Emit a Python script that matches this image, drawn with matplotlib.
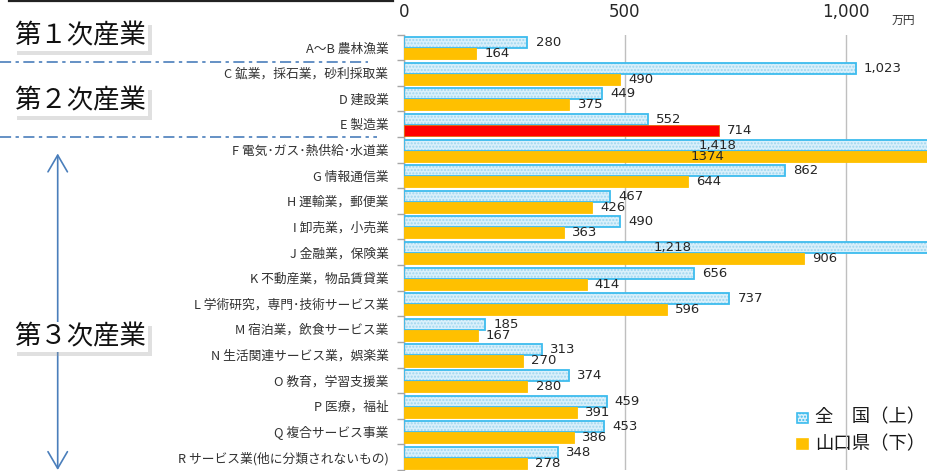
import matplotlib
matplotlib.use("Agg")
import matplotlib.pyplot as plt
from matplotlib.patches import Rectangle, FancyArrowPatch
from matplotlib.lines import Line2D
import matplotlib.patheffects as pe

plt.rcParams['lines.scale_dashes'] = False
CJK = ['Noto Sans CJK JP', 'DejaVu Sans']

# ---- data ----
categories = [
    "A～B 農林漁業",
    "C 鉱業，採石業，砂利採取業",
    "D 建設業",
    "E 製造業",
    "F 電気･ガス･熱供給･水道業",
    "G 情報通信業",
    "H 運輸業，郵便業",
    "I 卸売業，小売業",
    "J 金融業，保険業",
    "K 不動産業，物品賃貸業",
    "L 学術研究，専門･技術サービス業",
    "M 宿泊業，飲食サービス業",
    "N 生活関連サービス業，娯楽業",
    "O 教育，学習支援業",
    "P 医療，福祉",
    "Q 複合サービス事業",
    "R サービス業(他に分類されないもの)",
]
national = [280, 1023, 449, 552, 1418, 862, 467, 490, 1218, 656, 737, 185, 313, 374, 459, 453, 348]
yamaguchi = [164, 490, 375, 714, 1374, 644, 426, 363, 906, 414, 596, 167, 270, 280, 391, 386, 278]
highlight = "E 製造業"
x_ticks = [0, 500, 1000]
x_ticklabels = ["0", "500", "1,000"]
unit_label = "万円"
legend_labels = ["全　国（上）", "山口県（下）"]
sector_labels = ["第１次産業", "第２次産業", "第３次産業"]

W, H = 928, 471
fig = plt.figure(figsize=(W / 100, H / 100), dpi=100)

# overlay axes in pixel coordinates for annotations
ov = fig.add_axes([0, 0, 1, 1])
ov.set_xlim(0, W)
ov.set_ylim(H, 0)
ov.axis('off')
ov.set_zorder(0)

# main chart axes
left_px, top_px, bot_px = 403.7, 34.5, 470.0
xmax = (W - left_px) / (221.0 / 500)
ax = fig.add_axes([left_px / W, (H - bot_px) / H, (W - left_px) / W, (bot_px - top_px) / H])
ax.set_zorder(1)
ax.patch.set_alpha(0)

n = len(categories)
ys = list(range(n))
bh = 0.43
off = 0.03
y_nat = [y - bh / 2 + off for y in ys]
y_yam = [y + bh / 2 + off for y in ys]

blue_fill = '#d9f0fb'
blue_dot = '#9fd6ef'
blue_edge = '#3dbcee'
orange = '#FFC000'
red = '#FF0000'

ax.barh(y_nat, national, height=bh, color=blue_fill, edgecolor=blue_dot,
        linewidth=0, hatch='.....', zorder=2)
ax.barh(y_nat, national, height=bh, fill=False, edgecolor=blue_edge,
        linewidth=1.3, zorder=3)
ycolors = [red if c == highlight else orange for c in categories]
yedges = ['#E46C0A' if c == highlight else orange for c in categories]
ax.barh(y_yam, yamaguchi, height=bh, color=ycolors, edgecolor=yedges,
        linewidth=0.6, zorder=3)

ax.set_xlim(0, xmax)
ax.set_ylim(n - 0.5, -0.5)

# value labels
vfs = 9.5
for y, v in zip(y_nat, national):
    s = f"{v:,}"
    if v > xmax:
        ax.text(v / 2, y, s, ha='center', va='center', fontsize=vfs,
                color='#262626', zorder=5)
    else:
        ax.annotate(s, (v, y), xytext=(5.8, 0), textcoords='offset points',
                    ha='left', va='center', fontsize=vfs, color='#262626', zorder=5)
for y, v in zip(y_yam, yamaguchi):
    s = f"{v}"
    if v > xmax:
        ax.text(v / 2, y, s, ha='center', va='center', fontsize=vfs,
                color='#262626', zorder=5)
    else:
        ax.annotate(s, (v, y), xytext=(5.8, 0), textcoords='offset points',
                    ha='left', va='center', fontsize=vfs, color='#262626', zorder=5)

# axes styling
ax.xaxis.set_ticks_position('top')
ax.set_xticks(x_ticks)
ax.set_xticklabels(x_ticklabels)
ax.tick_params(axis='x', length=0, pad=9.5, labelsize=12, labelcolor='#262626')
ax.grid(axis='x', color='#bfbfbf', linewidth=1.0, zorder=0)
ax.set_axisbelow(True)

ax.set_yticks(ys)
ax.set_yticklabels(categories, fontfamily=CJK, fontsize=9.2, color='#333333')
ax.tick_params(axis='y', which='major', length=0, pad=11)
ax.set_yticks([y + 0.5 for y in range(-1, n)], minor=True)
ax.tick_params(axis='y', which='minor', length=5, width=1, color='#a6a6a6')
for side in ['top', 'right', 'bottom']:
    ax.spines[side].set_visible(False)
ax.spines['left'].set_color('#a6a6a6')
ax.spines['left'].set_linewidth(1.0)

# unit label
ov.text(903, 20.5, unit_label, fontfamily=CJK, fontsize=8.5, color='#333333',
        ha='center', va='center')

# legend (manual, no frame)
leg_y = [417.7, 444.0]
leg_face = [blue_fill, orange]
leg_edge = [blue_edge, orange]
for yy, lab, fc, ec in zip(leg_y, legend_labels, leg_face, leg_edge):
    ov.add_patch(Rectangle((797, yy - 5), 11, 10, facecolor=fc, edgecolor=ec,
                           linewidth=1.2, hatch='.....' if fc == blue_fill else None))
    ov.text(815, yy, lab, fontfamily=CJK, fontsize=13.2, color='#1a1a1a',
            ha='left', va='center')

# top rule
ov.add_line(Line2D([9, 393], [0.8, 0.8], color='#222222', linewidth=1.6))

# dash-dot separators
sep_color = '#4a7ebb'
for yy, x1 in [(61.7, 368), (137.3, 377)]:
    ln = Line2D([0, x1], [yy, yy], color=sep_color, linewidth=1.2)
    ln.set_dashes([8.0, 3.2, 2.4, 3.2])
    ov.add_line(ln)

# vertical double arrow for tertiary sector
arr = FancyArrowPatch((57.7, 153.5), (57.7, 470.0),
                      arrowstyle='<->,head_length=12,head_width=7',
                      mutation_scale=1, color=sep_color, linewidth=1.2,
                      shrinkA=0, shrinkB=0, zorder=2)
ov.add_patch(arr)

# sector boxes
for lab, cy in zip(sector_labels, [35.5, 100.5, 337.0]):
    t = ov.text(80.5, cy, lab, fontfamily=CJK, fontsize=19, color='#111111',
                ha='center', va='center', zorder=5,
                bbox=dict(boxstyle='square,pad=0.06', facecolor='white',
                          edgecolor='none'))
    t.get_bbox_patch().set_path_effects([
        pe.withSimplePatchShadow(offset=(3, -3), shadow_rgbFace='#999999', alpha=0.3),
        pe.Normal()])

fig.savefig('out.png', dpi=100)
